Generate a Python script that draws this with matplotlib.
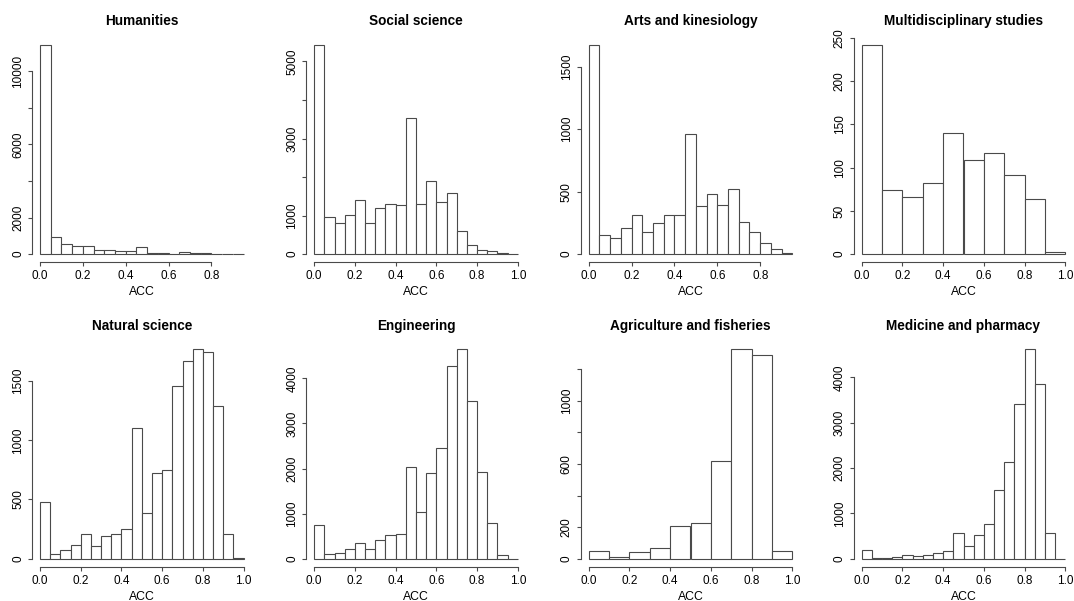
import matplotlib
matplotlib.use("Agg")
import matplotlib.pyplot as plt
import numpy as np

plt.rcParams['font.family'] = ['Liberation Sans', 'DejaVu Sans']

# ACC histogram counts per field of study (bins of 0.05 or 0.1 starting at 0)
titles = ['Humanities', 'Social science', 'Arts and kinesiology', 'Multidisciplinary studies',
          'Natural science', 'Engineering', 'Agriculture and fisheries', 'Medicine and pharmacy']

humanities = [11440, 910, 580, 420, 420, 200, 220, 165, 165, 400,
              55, 55, 20, 110, 36, 36, 5, 30, 0]
social = [5430, 960, 815, 1010, 1400, 805, 1195, 1300, 1270, 3520,
          1300, 1910, 1350, 1575, 600, 235, 112, 78, 26, 0]
arts = [1673, 152, 128, 208, 312, 176, 248, 312, 309, 959,
        381, 480, 389, 517, 253, 176, 88, 40, 8]
multi = [242, 74, 66, 82, 140, 109, 117, 91, 64, 2]
natural = [479, 42, 76, 116, 206, 107, 195, 211, 251, 1100,
           389, 725, 753, 1455, 1666, 1768, 1742, 1288, 211, 6]
engineering = [745, 96, 133, 222, 355, 222, 407, 518, 555, 2044,
               1044, 1911, 2459, 4267, 4644, 3504, 1926, 800, 74, 0]
agriculture = [51, 11, 44, 70, 210, 229, 620, 1327, 1293, 51]
medicine = [199, 22, 22, 29, 74, 52, 74, 133, 162, 575,
            280, 516, 774, 1525, 2144, 3405, 4620, 3847, 575, 0]

counts = [humanities, social, arts, multi, natural, engineering, agriculture, medicine]
bin_widths = [0.05, 0.05, 0.05, 0.1, 0.05, 0.05, 0.1, 0.05]

x_ticks = [[0.0, 0.2, 0.4, 0.6, 0.8], [0.0, 0.2, 0.4, 0.6, 0.8, 1.0],
           [0.0, 0.2, 0.4, 0.6, 0.8], [0.0, 0.2, 0.4, 0.6, 0.8, 1.0],
           [0.0, 0.2, 0.4, 0.6, 0.8, 1.0], [0.0, 0.2, 0.4, 0.6, 0.8, 1.0],
           [0.0, 0.2, 0.4, 0.6, 0.8, 1.0], [0.0, 0.2, 0.4, 0.6, 0.8, 1.0]]
y_ticks = [[0, 2000, 4000, 6000, 8000, 10000], [0, 1000, 2000, 3000, 4000, 5000],
           [0, 500, 1000, 1500], [0, 50, 100, 150, 200, 250],
           [0, 500, 1000, 1500], [0, 1000, 2000, 3000, 4000],
           [0, 200, 400, 600, 800, 1000, 1200], [0, 1000, 2000, 3000, 4000]]
# crowded labels are left blank, as base R's axis() drops them
y_labels = [['0', '2000', '', '6000', '', '10000'], ['0', '1000', '', '3000', '', '5000'],
            ['0', '500', '1000', '1500'], ['0', '50', '100', '150', '200', '250'],
            ['0', '500', '1000', '1500'], ['0', '1000', '2000', '3000', '4000'],
            ['0', '200', '', '600', '', '1000', ''], ['0', '1000', '2000', '3000', '4000']]

W, H = 1074, 601
lefts = [31.8, 306, 580.5, 853.5]
bottoms = [262.5, 567]
ax_w, ax_h = 220, 226
ink = '#4a4a4a'

fig = plt.figure(figsize=(W / 100, H / 100), dpi=100)

for i in range(8):
    row, col = divmod(i, 4)
    ax = fig.add_axes([lefts[col] / W, (H - bottoms[row]) / H, ax_w / W, ax_h / H])

    c = np.array(counts[i], dtype=float)
    bw = bin_widths[i]
    edges = np.arange(len(c) + 1) * bw
    ax.bar(edges[:-1], c, width=bw, align='edge', facecolor='white',
           edgecolor=ink, linewidth=0.8)

    # 4% padding on both axes, like R's default xaxs/yaxs = "r"
    lo, hi = edges[0], edges[-1]
    ax.set_xlim(lo - 0.04 * (hi - lo), hi + 0.04 * (hi - lo))
    ax.set_ylim(-0.04 * c.max(), 1.04 * c.max())

    ax.set_xticks(x_ticks[i])
    ax.set_xticklabels(['%.1f' % t for t in x_ticks[i]])
    ax.set_yticks(y_ticks[i])
    ax.set_yticklabels(y_labels[i])
    plt.setp(ax.get_yticklabels(), rotation=90, va='center')

    for side in ['top', 'right']:
        ax.spines[side].set_visible(False)
    ax.spines['bottom'].set_bounds(x_ticks[i][0], x_ticks[i][-1])
    ax.spines['left'].set_bounds(y_ticks[i][0], y_ticks[i][-1])
    for side in ['bottom', 'left']:
        ax.spines[side].set_color(ink)
        ax.spines[side].set_linewidth(0.8)

    ax.tick_params(length=3.0, width=0.8, color=ink, labelsize=8.5, pad=2.5)
    ax.set_title(titles[i], fontweight='bold', fontsize=9.8, pad=8)
    ax.set_xlabel('ACC', fontsize=8.8, labelpad=3)
    ax.set_facecolor('none')

fig.savefig('out.png', dpi=100)
